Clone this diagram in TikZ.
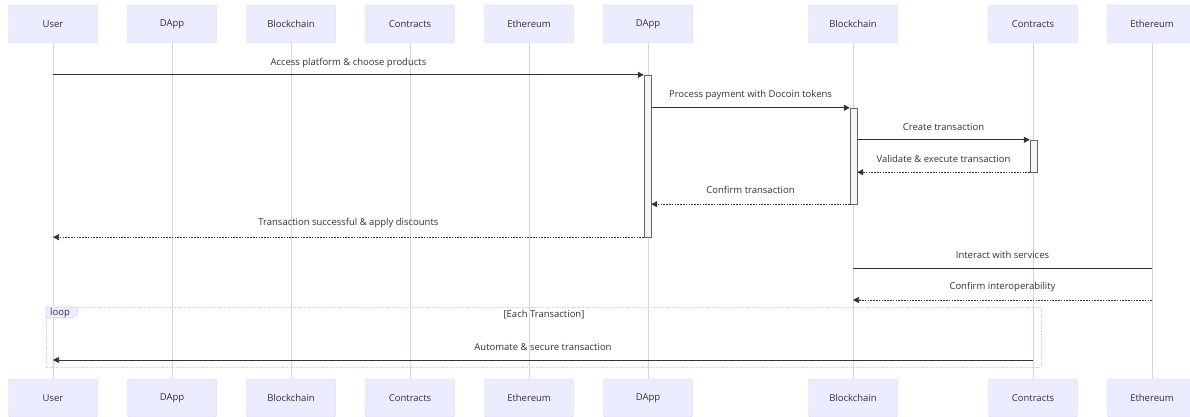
\documentclass[tikz,border=0pt]{standalone}
\usepackage{fontspec}
\setmainfont{Open Sans}
\usetikzlibrary{arrows.meta}
\definecolor{actorfill}{HTML}{ECECFF}
\definecolor{actorline}{HTML}{DACEF3}
\definecolor{ink}{HTML}{333333}
\newcommand{\boxw}{89pt}
\newcommand{\boxh}{38pt}

\begin{document}
\begin{tikzpicture}[x=1pt,y=-1pt,
    actor/.style={draw=actorline, fill=actorfill, rounded corners=2pt, minimum width=\boxw, minimum height=\boxh, inner sep=0pt, text=ink, font=\fontsize{9.5}{11}\selectfont},
    life/.style={draw=actorline, line width=0.8pt},
    act/.style={draw=black!60, fill=black!4, minimum width=7pt, inner sep=0pt},
    msg/.style={draw=ink, line width=0.7pt, -{Triangle[length=6pt,width=6pt]}},
    reply/.style={msg, dash pattern=on 1.6pt off 1.2pt},
    lbl/.style={text=ink, font=\fontsize{9.5}{11}\selectfont}]
    \useasboundingbox (0,0) rectangle (1190,417);

    % Top row
    \node[actor] (top-user)   at (53,24)   {User};
    \node[actor] (top-dapp)   at (172,24)  {DApp};
    \node[actor] (top-chain)  at (291,24)  {Blockchain};
    \node[actor] (top-contr)  at (410,24)  {Contracts};
    \node[actor] (top-eth)    at (529,24)  {Ethereum};
    \node[actor] (top-dapp2)  at (648,24)  {DApp};
    \node[actor] (top-chain2) at (853,24)  {Blockchain};
    \node[actor] (top-contr2) at (1033,24) {Contracts};
    \node[actor] (top-eth2)   at (1152,24) {Ethereum};

    % Bottom row
    \node[actor] (bot-user)   at (53,398)   {User};
    \node[actor] (bot-dapp)   at (172,398)  {DApp};
    \node[actor] (bot-chain)  at (291,398)  {Blockchain};
    \node[actor] (bot-contr)  at (410,398)  {Contracts};
    \node[actor] (bot-eth)    at (529,398)  {Ethereum};
    \node[actor] (bot-dapp2)  at (648,398)  {DApp};
    \node[actor] (bot-chain2) at (853,398)  {Blockchain};
    \node[actor] (bot-contr2) at (1033,398) {Contracts};
    \node[actor] (bot-eth2)   at (1152,398) {Ethereum};

    % Lifelines
    \foreach \n in {user,dapp,chain,contr,eth,dapp2,chain2,contr2,eth2}
        \draw[life] (top-\n.south) -- (bot-\n.north);

    % Loop frame
    \draw[actorline, dash pattern=on 1.5pt off 1pt, line width=0.7pt] (46,307) rectangle (1041,367);
    \draw[actorline, fill=actorfill, line width=0.6pt, line join=miter] (46,307) -- (78,307) -- (78,313) -- (73,318) -- (46,318) -- cycle;
    \node[lbl] (loop-tag) at (60,313) {loop};
    \node[lbl] (loop-cond) at (544,315) {[Each Transaction]};

    % Activations
    \node[act, minimum height=162pt] (act-dapp)  at (647.5,156) {};
    \node[act, minimum height=96pt]  (act-chain) at (853.5,156) {};
    \node[act, minimum height=32pt]  (act-contr) at (1033.5,156) {};

    % Messages
    \draw[msg] (top-user |- act-dapp.north) -- (act-dapp.north west)
        node[lbl, midway, yshift=12pt] {Access platform \& choose products};
    \draw[msg] (act-dapp.east |- act-chain.north) -- (act-chain.north west)
        node[lbl, midway, yshift=13pt] {Process payment with Docoin tokens};
    \draw[msg] (act-chain.east |- act-contr.north) -- (act-contr.north west)
        node[lbl, midway, yshift=13pt] {Create transaction};
    \draw[reply] (act-contr.south west) -- (act-chain.east |- act-contr.south)
        node[lbl, midway, yshift=13pt] {Validate \& execute transaction};
    \draw[reply] (act-chain.south west) -- (act-dapp.east |- act-chain.south)
        node[lbl, midway, yshift=14pt] {Confirm transaction};
    \draw[reply] (act-dapp.south west) -- (top-user |- act-dapp.south)
        node[lbl, midway, yshift=14pt] {Transaction successful \& apply discounts};

    \coordinate (m-interact) at (0,268);
    \coordinate (m-confirm) at (0,300);
    \coordinate (m-auto) at (0,360);
    \draw[ink, line width=0.7pt] (top-chain2 |- m-interact) -- (top-eth2 |- m-interact)
        node[lbl, midway, yshift=13pt] {Interact with services};
    \draw[reply] (top-eth2 |- m-confirm) -- (top-chain2 |- m-confirm)
        node[lbl, midway, yshift=13pt] {Confirm interoperability};
    \draw[msg] (top-contr2 |- m-auto) -- (top-user |- m-auto)
        node[lbl, midway, yshift=13pt] {Automate \& secure transaction};
\end{tikzpicture}
\end{document}
